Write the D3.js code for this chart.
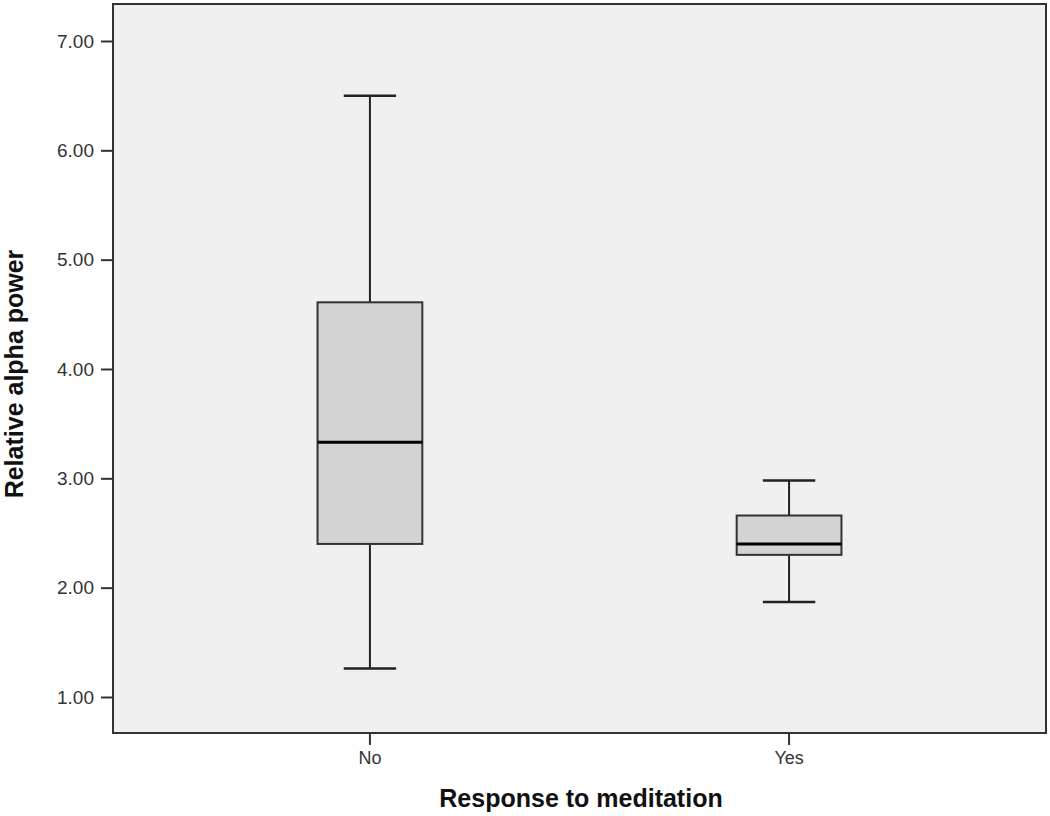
<!DOCTYPE html>
<html>
<head>
<meta charset="utf-8">
<style>
html, body {
  margin: 0px;
  padding: 0px;
  background: #fff;
}
text {
  font-family: "Liberation Sans", Arial, sans-serif;
}
</style>
</head>
<body>
<div id="chart"></div>
<script src="https://cdn.jsdelivr.net/npm/d3@7"></script>
<script>
  // box plot summaries
  var groups = ["No", "Yes"];
  var whiskerLow = [1.26, 1.87];
  var q1 = [2.40, 2.30];
  var medians = [3.33, 2.40];
  var q3 = [4.61, 2.66];
  var whiskerHigh = [6.50, 2.98];
  var yTicks = [1, 2, 3, 4, 5, 6, 7];

  var W = 1050, H = 816;
  var frame = {left: 113, right: 1046, top: 4, bottom: 733};

  var svg = d3.select("#chart").append("svg")
    .attr("width", W)
    .attr("height", H);

  var y = d3.scaleLinear().domain([1, 7]).range([697, 41]);
  var x = d3.scaleBand().domain(groups)
    .range([frame.left, frame.right])
    .paddingInner(0.75)
    .paddingOuter(0.488);

  var boxes = groups.map(function (g, i) {
    return {g: g, lo: whiskerLow[i], q1: q1[i], med: medians[i], q3: q3[i], hi: whiskerHigh[i]};
  });

  // plot background + frame
  svg.append("rect")
    .attr("x", frame.left).attr("y", frame.top)
    .attr("width", frame.right - frame.left)
    .attr("height", frame.bottom - frame.top)
    .attr("fill", "#f0f0f0")
    .attr("stroke", "#333")
    .attr("stroke-width", 2);

  // y axis
  var yAxis = d3.axisLeft(y).tickValues(yTicks)
    .tickFormat(d3.format(".2f"))
    .tickSize(12).tickPadding(7);
  var gy = svg.append("g").attr("transform", "translate(" + frame.left + ",0)").call(yAxis);
  gy.select(".domain").remove();
  gy.selectAll(".tick line").attr("stroke", "#333").attr("stroke-width", 2);
  gy.selectAll(".tick text").attr("font-size", 19).attr("fill", "#333")
    .style("font-family", "'Liberation Sans', Arial, sans-serif");

  // x axis
  var xAxis = d3.axisBottom(x).tickSize(12).tickPadding(6);
  var gx = svg.append("g").attr("transform", "translate(0," + frame.bottom + ")").call(xAxis);
  gx.select(".domain").remove();
  gx.selectAll(".tick line").attr("stroke", "#333").attr("stroke-width", 2);
  gx.selectAll(".tick text").attr("font-size", 18).attr("fill", "#333")
    .style("font-family", "'Liberation Sans', Arial, sans-serif");

  var bw = x.bandwidth();
  var box = svg.selectAll("g.box").data(boxes).enter().append("g")
    .attr("class", "box")
    .attr("transform", function (d) { return "translate(" + (x(d.g) + bw / 2) + ",0)"; });

  // whisker stems
  box.append("line")
    .attr("x1", 0).attr("x2", 0)
    .attr("y1", function (d) { return y(d.hi); })
    .attr("y2", function (d) { return y(d.q3); })
    .attr("stroke", "#222").attr("stroke-width", 2);
  box.append("line")
    .attr("x1", 0).attr("x2", 0)
    .attr("y1", function (d) { return y(d.q1); })
    .attr("y2", function (d) { return y(d.lo); })
    .attr("stroke", "#222").attr("stroke-width", 2);

  // caps
  box.selectAll("line.cap")
    .data(function (d) { return [d.hi, d.lo]; })
    .enter().append("line")
    .attr("class", "cap")
    .attr("x1", -bw / 4).attr("x2", bw / 4)
    .attr("y1", function (v) { return y(v); })
    .attr("y2", function (v) { return y(v); })
    .attr("stroke", "#222").attr("stroke-width", 2.5);

  box.append("rect")
    .attr("x", -bw / 2)
    .attr("width", bw)
    .attr("y", function (d) { return y(d.q3); })
    .attr("height", function (d) { return y(d.q1) - y(d.q3); })
    .attr("fill", "#d3d3d3")
    .attr("stroke", "#333")
    .attr("stroke-width", 2);

  box.append("line")
    .attr("x1", -bw / 2).attr("x2", bw / 2)
    .attr("y1", function (d) { return y(d.med); })
    .attr("y2", function (d) { return y(d.med); })
    .attr("stroke", "#000").attr("stroke-width", 3);

  // axis titles
  svg.append("text")
    .attr("x", 581)
    .attr("y", 807)
    .attr("text-anchor", "middle")
    .attr("font-size", 25).attr("font-weight", "bold").attr("fill", "#111")
    .text("Response to meditation");

  svg.append("text")
    .attr("transform", "translate(23," + 374 + ") rotate(-90)")
    .attr("text-anchor", "middle")
    .attr("font-size", 25).attr("font-weight", "bold").attr("fill", "#111")
    .text("Relative alpha power");
</script>
</body>
</html>
